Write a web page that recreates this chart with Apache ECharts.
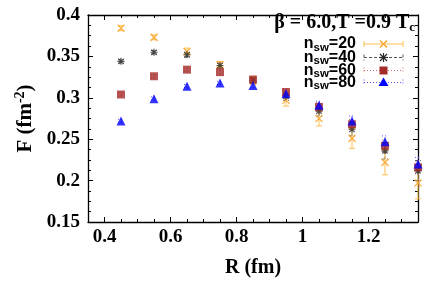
<!DOCTYPE html>
<html><head><meta charset="utf-8">
<script src="https://cdn.jsdelivr.net/npm/echarts@6/dist/echarts.min.js"></script>
<style>html,body{margin:0;padding:0;background:#fff}#c{width:436px;height:283px}</style>
</head><body><div id="c"></div>
<script>
// ---- data ----
const R = [0.45, 0.55, 0.65, 0.75, 0.85, 0.95, 1.05, 1.15, 1.25, 1.35];
const F20 = [0.384, 0.373, 0.356, 0.340, 0.321, 0.297, 0.275, 0.251, 0.222, 0.197];
const E20 = [0.003, 0.003, 0.004, 0.004, 0.005, 0.007, 0.009, 0.012, 0.015, 0.019];
const F40 = [0.344, 0.355, 0.352, 0.339, 0.321, 0.302, 0.284, 0.262, 0.236, 0.212];
const E40 = [0.002, 0.002, 0.003, 0.003, 0.004, 0.005, 0.006, 0.008, 0.010, 0.012];
const F60 = [0.304, 0.326, 0.334, 0.331, 0.322, 0.307, 0.289, 0.268, 0.242, 0.216];
const E60 = [0.002, 0.002, 0.002, 0.003, 0.003, 0.004, 0.005, 0.006, 0.007, 0.008];
const F80 = [0.272, 0.299, 0.314, 0.318, 0.315, 0.305, 0.291, 0.272, 0.247, 0.220];
const E80 = [0.002, 0.002, 0.002, 0.002, 0.003, 0.004, 0.005, 0.006, 0.007, 0.008];
const XMAJOR = [0.4, 0.6, 0.8, 1, 1.2];
const NSW = ['20', '40', '60', '80'];

// ---- styles ----
const ORANGE = '#f7a631', BLACK = '#2a2a2a', RED = '#a52a2a', BLUE = '#0000ff';
const serif = {fontFamily: 'Liberation Serif', fontWeight: 'bold', fontSize: 19, color: '#000'};
const serifT = {fontFamily: 'Liberation Serif', fontWeight: 'bold', fontSize: 20, color: '#000'};

function errSeries(vals, errs, color, dash) {
  return {
    type: 'custom', silent: true, z: 2, clip: false,
    encode: {x: 0, y: [1, 2]},
    data: R.map((r, i) => [r, vals[i] - errs[i], vals[i] + errs[i]]),
    renderItem(params, api) {
      const lo = api.coord([api.value(0), api.value(1)]);
      const hi = api.coord([api.value(0), api.value(2)]);
      const st = {stroke: color, lineWidth: 1, lineDash: dash, fill: null};
      const c = 3;
      return {type: 'group', children: [
        {type: 'line', shape: {x1: lo[0], y1: lo[1], x2: hi[0], y2: hi[1]}, style: st},
        {type: 'line', shape: {x1: lo[0] - c, y1: lo[1], x2: lo[0] + c, y2: lo[1]}, style: st},
        {type: 'line', shape: {x1: hi[0] - c, y1: hi[1], x2: hi[0] + c, y2: hi[1]}, style: st}
      ]};
    }
  };
}
function ptSeries(name, vals, symbol, size, itemStyle) {
  return {
    type: 'scatter', name, z: 3, clip: false, symbol, symbolSize: size, itemStyle,
    emphasis: {disabled: true},
    data: R.map((r, i) => [r, vals[i]])
  };
}
const XPATH = 'path://M0,0L10,10M10,0L0,10';
const STAR = 'path://M0,0L10,10M10,0L0,10M5,-1.5L5,11.5M-1.5,5L11.5,5';

const xBase = {type: 'value', min: 0.35, max: 1.35, splitLine: {show: false}};
const tickLine = {color: '#000', width: 1};
const frame = {show: true, onZero: false, lineStyle: {color: '#000', width: 1.3}};
const option = {
  animation: false,
  grid: {left: 88, right: 18, top: 15, bottom: 55, containLabel: false},
  xAxis: [
    Object.assign({}, xBase, {position: 'bottom', interval: 0.05,
      axisLine: frame,
      axisTick: {show: true, inside: true, length: 3, lineStyle: tickLine},
      axisLabel: {show: false},
      name: 'R (fm)', nameLocation: 'middle', nameGap: 36, nameTextStyle: serifT}),
    Object.assign({}, xBase, {position: 'bottom',
      axisLine: {show: false, onZero: false},
      axisTick: {show: true, inside: true, length: 5, customValues: XMAJOR, lineStyle: tickLine},
      axisLabel: Object.assign({show: true, customValues: XMAJOR, margin: 6}, serif)}),
    Object.assign({}, xBase, {position: 'top', interval: 0.05,
      axisLine: frame,
      axisTick: {show: true, inside: true, length: 3, lineStyle: tickLine},
      axisLabel: {show: false}}),
    Object.assign({}, xBase, {position: 'top',
      axisLine: {show: false, onZero: false},
      axisTick: {show: true, inside: true, length: 5, customValues: XMAJOR, lineStyle: tickLine},
      axisLabel: {show: false}})
  ],
  yAxis: [
    {type: 'value', position: 'left', min: 0.15, max: 0.4, interval: 0.05,
      axisLine: frame,
      axisTick: {show: true, inside: true, length: 5, lineStyle: tickLine},
      minorTick: {show: true, splitNumber: 4, length: 3, lineStyle: tickLine},
      axisLabel: Object.assign({margin: 8}, serif),
      splitLine: {show: false},
      name: 'F (fm{sup|-2})', nameLocation: 'middle', nameGap: 50,
      nameTextStyle: Object.assign({}, serifT, {fontSize: 21, rich: {sup: {fontFamily: 'Liberation Serif', fontWeight: 'bold', fontSize: 14, verticalAlign: 'bottom', padding: [0, 0, 10, 0]}}})},
    {type: 'value', position: 'right', min: 0.15, max: 0.4, interval: 0.05,
      axisLine: frame,
      axisTick: {show: true, inside: true, length: 5, lineStyle: tickLine},
      minorTick: {show: true, splitNumber: 4, length: 3, lineStyle: tickLine},
      axisLabel: {show: false}, splitLine: {show: false}}
  ],
  series: [
    errSeries(F80, E80, '#5a5aff', [1, 2]),
    errSeries(F60, E60, '#d36a6a', [1, 2]),
    errSeries(F40, E40, '#666666', [3, 2]),
    errSeries(F20, E20, '#ffc04d', null),
    ptSeries('n_sw=20', F20, XPATH, 7, {color: 'rgba(0,0,0,0)', borderColor: ORANGE, borderWidth: 1.5}),
    ptSeries('n_sw=40', F40, STAR, 7, {color: 'rgba(0,0,0,0)', borderColor: BLACK, borderWidth: 1.2}),
    ptSeries('n_sw=60', F60, 'rect', 8, {color: RED}),
    ptSeries('n_sw=80', F80, 'triangle', 9, {color: BLUE})
  ],
  graphic: []
};

// annotation
option.graphic.push({type: 'text', x: 415, y: 23, z: 10, style: {
  text: 'β = 6.0,T =0.9 T{c|c}', align: 'right', verticalAlign: 'middle',
  fontFamily: 'Liberation Serif', fontWeight: 'bold', fontSize: 20, fill: '#000',
  rich: {c: {fontFamily: 'Liberation Serif', fontWeight: 'bold', fontSize: 13, verticalAlign: 'top', padding: [9, 0, 0, 0]}}
}});

// legend
const legY = [44, 57.5, 70.5, 82.5];
const legStyles = [
  {color: '#ffc04d', dash: null, mark: 'x', mc: ORANGE},
  {color: '#555555', dash: [3, 2], mark: 'star', mc: BLACK},
  {color: '#d36a6a', dash: [1, 2], mark: 'sq', mc: RED},
  {color: '#5a5aff', dash: [1, 2], mark: 'tri', mc: BLUE}
];
function seg(x1, y1, x2, y2, st) { return {type: 'line', shape: {x1, y1, x2, y2}, style: st}; }
NSW.forEach((n, i) => {
  const y = legY[i], s = legStyles[i];
  option.graphic.push({type: 'text', x: 356, y: y, z: 10, style: {
    text: 'n{s|sw}=' + n, align: 'right', verticalAlign: 'middle',
    fontFamily: 'Liberation Sans', fontWeight: 'bold', fontSize: 16, fill: '#000',
    rich: {s: {fontFamily: 'Liberation Sans', fontWeight: 'bold', fontSize: 11.5, verticalAlign: 'top', padding: [7, 0, 0, 0]}}
  }});
  const ls = {stroke: s.color, lineWidth: 1, lineDash: s.dash, fill: null};
  const children = [seg(364, y, 403, y, ls), seg(364, y - 3, 364, y + 3, ls), seg(403, y - 3, 403, y + 3, ls)];
  const cx = 383.5;
  if (s.mark === 'x') {
    const ms = {stroke: s.mc, lineWidth: 1.5};
    children.push(seg(cx - 3.5, y - 3.5, cx + 3.5, y + 3.5, ms), seg(cx + 3.5, y - 3.5, cx - 3.5, y + 3.5, ms));
  } else if (s.mark === 'star') {
    const ms = {stroke: s.mc, lineWidth: 1.2};
    children.push(seg(cx - 3.5, y - 3.5, cx + 3.5, y + 3.5, ms), seg(cx + 3.5, y - 3.5, cx - 3.5, y + 3.5, ms),
      seg(cx, y - 4.5, cx, y + 4.5, ms), seg(cx - 4.5, y, cx + 4.5, y, ms));
  } else if (s.mark === 'sq') {
    children.push({type: 'rect', shape: {x: cx - 4, y: y - 4, width: 8, height: 8}, style: {fill: s.mc}});
  } else {
    children.push({type: 'polygon', shape: {points: [[cx, y - 5], [cx + 5, y + 3.5], [cx - 5, y + 3.5]]}, style: {fill: s.mc}});
  }
  option.graphic.push({type: 'group', z: 10, children});
});

const chart = echarts.init(document.getElementById('c'), null, {renderer: 'canvas'});
chart.setOption(option);
</script>
</body></html>
